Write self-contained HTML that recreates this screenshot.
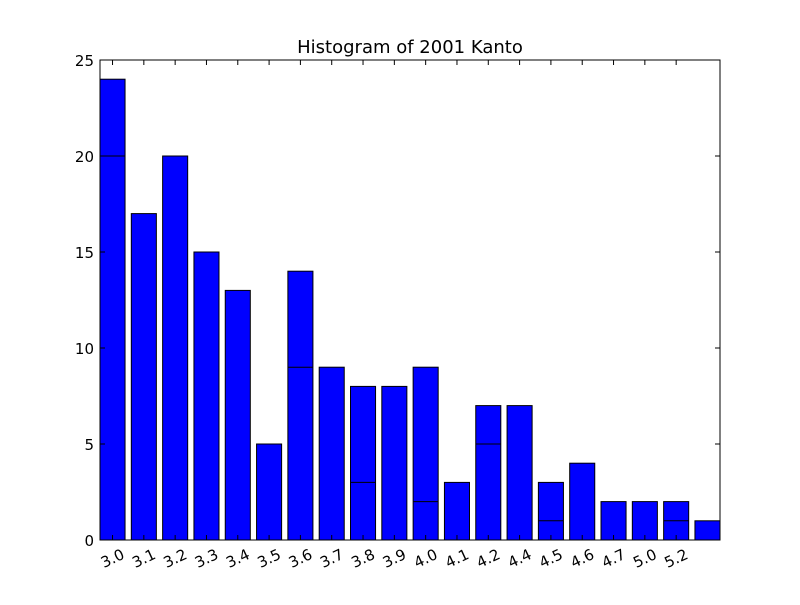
<!DOCTYPE html>
<html><head><meta charset="utf-8"><style>
body{margin:0;background:#fff;}
svg text{font-family:"DejaVu Sans","Liberation Sans",sans-serif;}
</style></head><body>
<svg id="chart" width="800" height="600" xmlns="http://www.w3.org/2000/svg">
<rect width="800" height="600" fill="#fff"/>
<text x="410" y="53" font-size="18" text-anchor="middle">Histogram of 2001 Kanto</text>
<g id="bars"></g>
<g id="axes"></g>
</svg>
<script>
const categories=["3.0","3.1","3.2","3.3","3.4","3.5","3.6","3.7","3.8","3.9","4.0","4.1","4.2","4.4","4.5","4.6","4.7","5.0","5.2",""];
const totals=[24,17,20,15,13,5,14,9,8,8,9,3,7,7,3,4,2,2,2,1];
const innerLines=[20,0,0,0,0,0,9,0,3,0,2,0,5,0,1,0,0,0,1,0];
const yTicks=[0,5,10,15,20,25];
const L=100,R=720,T=60,B=540,yMax=25;
const slot=(R-L)/(categories.length-1+0.8);
const y=v=>B-(v/yMax)*(B-T);
const x=i=>L+slot*i;
const NS="http://www.w3.org/2000/svg";
function mk(t,a,p){const e=document.createElementNS(NS,t);for(const k in a)e.setAttribute(k,a[k]);p.appendChild(e);return e;}
const bars=document.getElementById('bars'),axes=document.getElementById('axes');
totals.forEach((v,i)=>{
 const r=mk('rect',{x:x(i),y:y(v),width:slot*0.8,height:B-y(v),fill:'#0000ff',stroke:'#000','stroke-width':1},bars);
 
 
 if(innerLines[i]>0){
  const l=mk('line',{x1:x(i),x2:x(i)+slot*0.8,y1:y(innerLines[i]),y2:y(innerLines[i]),stroke:'#000','stroke-width':1},bars);
  
  
 }
});
const frame=mk('rect',{x:L,y:T,width:R-L,height:B-T,fill:'none',stroke:'#000','stroke-width':1},axes);


yTicks.forEach(t=>{
 mk('line',{x1:L,x2:L+5,y1:y(t),y2:y(t),stroke:'#000'},axes);
 mk('line',{x1:R-5,x2:R,y1:y(t),y2:y(t),stroke:'#000'},axes);
 const tx=mk('text',{x:L-6,y:y(t)+6,'font-size':15,'text-anchor':'end'},axes);
 tx.textContent=t;
 
 
});
categories.forEach((c,i)=>{
 if(!c)return;
 const cx=x(i)+slot*0.4;
 mk('line',{x1:cx,x2:cx,y1:B,y2:B-5,stroke:'#000'},axes);
 mk('line',{x1:cx,x2:cx,y1:T,y2:T+5,stroke:'#000'},axes);
 const tx=mk('text',{x:cx+13,y:B+18,'font-size':15,'text-anchor':'end',transform:`rotate(-25 ${cx+13} ${B+18})`},axes);
 tx.textContent=c;
 
 
});
</script>
</body></html>
